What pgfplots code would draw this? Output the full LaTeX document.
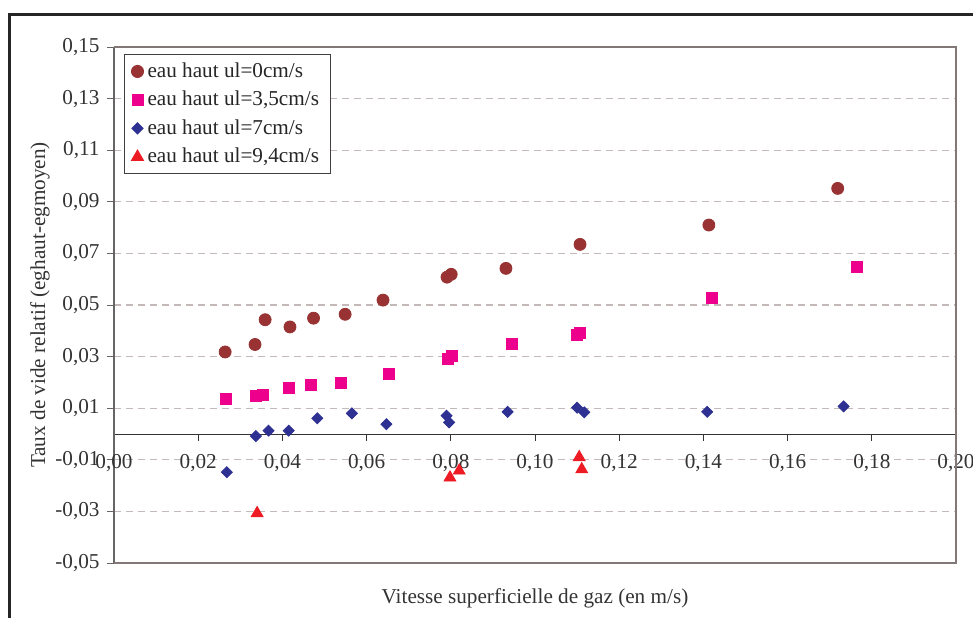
\documentclass[border=0pt]{standalone}
\usepackage{fontspec}
\setmainfont{Liberation Serif}
\usepackage{pgfplots}
\pgfplotsset{compat=1.18}

\definecolor{cbrown}{RGB}{153,51,51}
\definecolor{cpink}{RGB}{236,0,140}
\definecolor{cblue}{RGB}{46,49,146}
\definecolor{cred}{RGB}{237,28,36}
\definecolor{gridc}{RGB}{195,185,185}
\definecolor{framec}{RGB}{130,120,120}

\begin{document}
\fontsize{10.6}{12.7}\selectfont
\begin{tikzpicture}
% outer chart frame (1px = 0.5pt)
\draw[line width=1.5pt, black!85] (4.5pt,-320pt) -- (4.5pt,-7pt) -- (500pt,-7pt);
\begin{axis}[
  at={(57pt,-281.5pt)}, anchor=south west,
  scale only axis, width=421pt, height=258pt,
  xmin=0, xmax=0.2, ymin=-0.05, ymax=0.15,
  xtick={0,0.02,0.04,0.06,0.08,0.1,0.12,0.14,0.16,0.18,0.2},
  ytick={-0.05,-0.03,-0.01,0.01,0.03,0.05,0.07,0.09,0.11,0.13,0.15},
  axis x line=middle, axis y line=left,
  axis line style={-},
  x axis line style={draw=black!80, line width=0.5pt},
  y axis line style={draw=black!60, line width=0.8pt},
  hide obscured x ticks=false, hide obscured y ticks=false,
  tick align=outside, major tick length=3.5pt,
  xtick style={black!80, line width=0.5pt},
  ytick style={black!60, line width=0.5pt},
  ymajorgrids,
  major grid style={gridc, line width=0.6pt, dash pattern=on 3.5pt off 2.5pt},
  tick label style={font=\fontsize{10.6}{12.7}\selectfont, text=black!80},
  x tick label style={yshift=-3pt},
  /pgf/number format/.cd, use comma, fixed, fixed zerofill, precision=2, assume math mode=true,
  /pgfplots/.cd,
  xlabel={Vitesse superficielle de gaz (en m/s)},
  ylabel={Taux de vide relatif (eghaut-egmoyen)},
  every axis x label/.style={at={(axis description cs:0.5,-0.0678)}, anchor=center, text=black!80},
  every axis y label/.style={at={(axis description cs:-0.0879,0.5)}, anchor=center, rotate=90, text=black!80},
  legend style={at={(0,1)}, anchor=north west, xshift=5pt, yshift=-3.5pt,
    draw=black!75, line width=0.5pt, inner xsep=3.5pt, inner ysep=2pt, row sep=1.3pt,
    font=\fontsize{10.6}{12.7}\selectfont, text=black!85,
    nodes={inner xsep=2pt}},
  legend cell align=left,
  clip=false,
]
\draw[framec, line width=0.6pt] (rel axis cs:0,1) -- (rel axis cs:1,1) -- (rel axis cs:1,0) -- (rel axis cs:0,0);

\addplot[only marks, mark=*, mark size=3pt, color=cbrown] coordinates {
(0.0264,0.0318) (0.0335,0.0347) (0.0359,0.0443) (0.0418,0.0415) (0.0474,0.0449)
(0.0549,0.0464) (0.0639,0.0519) (0.0791,0.0608) (0.0801,0.0619) (0.0931,0.0642)
(0.1107,0.0735) (0.1413,0.0810) (0.1719,0.0952)};
\addlegendentry{eau haut ul=0cm/s}

\addplot[only marks, mark=square*, mark size=2.75pt, color=cpink] coordinates {
(0.0265,0.0138) (0.0337,0.0147) (0.0353,0.0151) (0.0416,0.0179) (0.0467,0.0190)
(0.0539,0.0199) (0.0653,0.0233) (0.0792,0.0291) (0.0803,0.0303) (0.0945,0.0348)
(0.1100,0.0384) (0.1107,0.0393) (0.1421,0.0526) (0.1764,0.0648)};
\addlegendentry{eau haut ul=3,5cm/s}

\addplot[only marks, mark=square*, mark options={rotate=45}, mark size=1.95pt, color=cblue] coordinates {
(0.0268,-0.0148) (0.0337,-0.0008) (0.0367,0.0013) (0.0415,0.0013) (0.0483,0.0061)
(0.0565,0.0080) (0.0647,0.0038) (0.0790,0.0071) (0.0796,0.0045) (0.0935,0.0086)
(0.1100,0.0102) (0.1117,0.0084) (0.1409,0.0086) (0.1733,0.0107)};
\addlegendentry{eau haut ul=7cm/s}

\addplot[only marks, mark=triangle*, mark size=3.4pt, color=cred] coordinates {
(0.0340,-0.0307) (0.0798,-0.0169) (0.0820,-0.0142) (0.1105,-0.0090) (0.1111,-0.0137)};
\addlegendentry{eau haut ul=9,4cm/s}
\end{axis}
\pgfresetboundingbox
\useasboundingbox (0pt,0pt) rectangle (486.5pt,-308.5pt);
\end{tikzpicture}
\end{document}
